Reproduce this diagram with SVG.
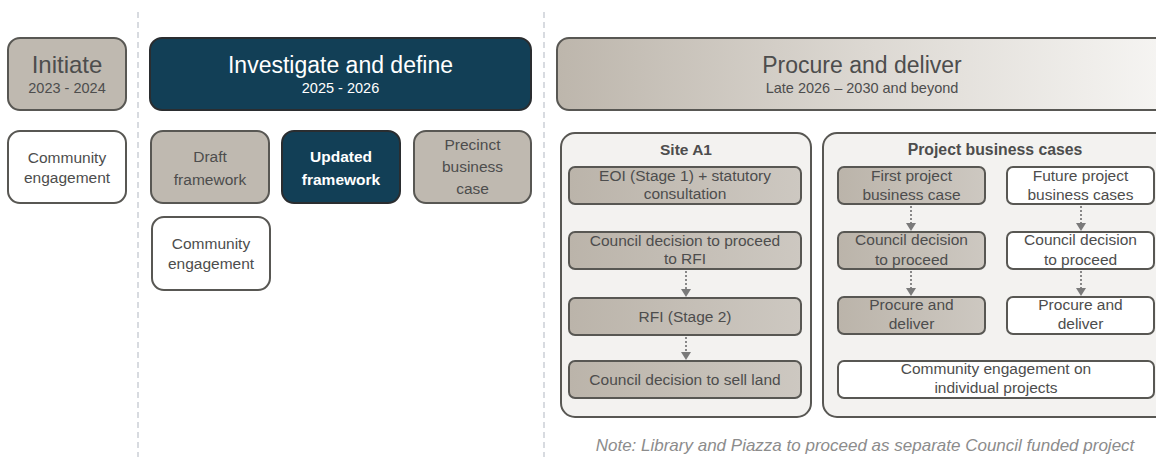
<svg xmlns="http://www.w3.org/2000/svg" width="1156" height="457" viewBox="0 0 1156 457">
<defs>
<linearGradient id="hdr" x1="0" y1="0" x2="1" y2="0">
<stop offset="0" stop-color="#bdb6ac"/>
<stop offset="0.5" stop-color="#dcd8d2"/>
<stop offset="1" stop-color="#f7f6f4"/>
</linearGradient>
<linearGradient id="tan" x1="0" y1="0" x2="1" y2="0">
<stop offset="0" stop-color="#bbb4aa"/>
<stop offset="1" stop-color="#cdc8c1"/>
</linearGradient>
</defs>
<style>
.box{stroke:#585753;stroke-width:2}
.tan{fill:#bfb9b0}
.tang{fill:url(#tan)}
.wht{fill:#ffffff}
.teal{fill:#123f56;stroke:#2a2d30}
.cont{fill:#f3f2f0;stroke:#585753;stroke-width:2}
.div{stroke:#d8dbe0;stroke-width:2;stroke-dasharray:6 4;fill:none}
text{font-family:"Liberation Sans",Arial,sans-serif;text-anchor:middle;fill:#4d4d4d}
.t{font-size:15.5px}
.big{font-size:23px}
.ini{font-size:24px}
.sub{font-size:14.5px}
.w{fill:#ffffff}
.b{font-weight:bold}
.hb{font-size:15.8px}
.note{font-size:17px;font-style:italic;fill:#8c8c8c}
.con{stroke:#888888;stroke-width:2;stroke-dasharray:2 2;fill:none}
.ah{fill:#7a7a7a}
</style>

<g id="dividers">
<line class="div" x1="138" y1="12" x2="138" y2="457"/>
<line class="div" x1="544" y1="12" x2="544" y2="457"/>
</g>

<g id="initiate">
<rect class="box tan" x="8" y="38" width="118" height="72" rx="12"/>
<text class="ini" x="67" y="73">Initiate</text>
<text class="sub" x="67" y="93">2023 - 2024</text>
</g>
<g id="ce1">
<rect class="box wht" x="8" y="131" width="118" height="72" rx="12"/>
<text class="t" x="67" y="163">Community</text>
<text class="t" x="67" y="183">engagement</text>
</g>

<g id="investigate">
<rect class="box teal" x="150" y="38" width="381" height="72" rx="12"/>
<text class="big w" x="340.5" y="73">Investigate and define</text>
<text class="sub w" x="340.5" y="93">2025 - 2026</text>
</g>
<g id="draft">
<rect class="box tan" x="151" y="131" width="118" height="72" rx="12"/>
<text class="t" x="210" y="162">Draft</text>
<text class="t" x="210" y="185">framework</text>
</g>
<g id="updated">
<rect class="box teal" x="282" y="131" width="118" height="72" rx="12"/>
<text class="t w b" x="341" y="162">Updated</text>
<text class="t w b" x="341" y="185">framework</text>
</g>
<g id="precinct">
<rect class="box tan" x="414" y="131" width="117" height="72" rx="12"/>
<text class="t" x="472.5" y="150">Precinct</text>
<text class="t" x="472.5" y="172">business</text>
<text class="t" x="472.5" y="194">case</text>
</g>
<g id="ce2">
<rect class="box wht" x="152" y="217" width="118" height="73" rx="12"/>
<text class="t" x="211" y="249">Community</text>
<text class="t" x="211" y="269">engagement</text>
</g>

<g id="procure">
<rect class="box" fill="url(#hdr)" x="557" y="38" width="620" height="72" rx="12"/>
<text class="big" x="862" y="73">Procure and deliver</text>
<text class="sub" x="862" y="93">Late 2026 – 2030 and beyond</text>
</g>

<g id="siteA1">
<rect class="cont" x="561" y="133" width="250" height="284" rx="14"/>
<text class="t b" x="686" y="155">Site A1</text>
</g>
<g id="eoi">
<rect class="box tang" x="569" y="167" width="232" height="37" rx="6"/>
<text class="t" x="685" y="181">EOI (Stage 1) + statutory</text>
<text class="t" x="685" y="199">consultation</text>
</g>
<g id="cdrfi">
<rect class="box tang" x="569" y="232" width="232" height="37" rx="6"/>
<text class="t" x="685" y="246">Council decision to proceed</text>
<text class="t" x="685" y="264">to RFI</text>
</g>
<g id="rfi">
<rect class="box tang" x="569" y="298" width="232" height="37" rx="6"/>
<text class="t" x="685" y="322">RFI (Stage 2)</text>
</g>
<g id="cdsell">
<rect class="box tang" x="569" y="361" width="232" height="37" rx="6"/>
<text class="t" x="685" y="385">Council decision to sell land</text>
</g>

<g id="pbc">
<rect class="cont" x="823" y="133" width="360" height="284" rx="14"/>
<text class="hb b" x="995" y="155">Project business cases</text>
</g>
<g id="first">
<rect class="box tang" x="838" y="167" width="147" height="37" rx="6"/>
<text class="t" x="911.5" y="181">First project</text>
<text class="t" x="911.5" y="200">business case</text>
</g>
<g id="future">
<rect class="box wht" x="1007" y="167" width="147" height="37" rx="6"/>
<text class="t" x="1080.5" y="181">Future project</text>
<text class="t" x="1080.5" y="200">business cases</text>
</g>
<g id="cd1">
<rect class="box tang" x="838" y="232" width="147" height="37" rx="6"/>
<text class="t" x="911.5" y="245">Council decision</text>
<text class="t" x="911.5" y="265">to proceed</text>
</g>
<g id="cd2">
<rect class="box wht" x="1007" y="232" width="147" height="37" rx="6"/>
<text class="t" x="1080.5" y="245">Council decision</text>
<text class="t" x="1080.5" y="265">to proceed</text>
</g>
<g id="pd1">
<rect class="box tang" x="838" y="297" width="147" height="37" rx="6"/>
<text class="t" x="911.5" y="310">Procure and</text>
<text class="t" x="911.5" y="329">deliver</text>
</g>
<g id="pd2">
<rect class="box wht" x="1007" y="297" width="147" height="37" rx="6"/>
<text class="t" x="1080.5" y="310">Procure and</text>
<text class="t" x="1080.5" y="329">deliver</text>
</g>
<g id="ceproj">
<rect class="box wht" x="838" y="361" width="316" height="37" rx="6"/>
<text class="t" x="996" y="374">Community engagement on</text>
<text class="t" x="996" y="393">individual projects</text>
</g>

<g id="connectors">
<line class="con" x1="686" y1="271" x2="686" y2="290"/>
<path class="ah" d="M681,289 L691,289 L686,297 Z"/>
<line class="con" x1="686" y1="337" x2="686" y2="353"/>
<path class="ah" d="M681,352 L691,352 L686,360 Z"/>
<line class="con" x1="911" y1="206" x2="911" y2="224"/>
<path class="ah" d="M906,223 L916,223 L911,231 Z"/>
<line class="con" x1="911" y1="271" x2="911" y2="289"/>
<path class="ah" d="M906,288 L916,288 L911,296 Z"/>
<line class="con" x1="1081" y1="206" x2="1081" y2="224"/>
<path class="ah" d="M1076,223 L1086,223 L1081,231 Z"/>
<line class="con" x1="1081" y1="271" x2="1081" y2="289"/>
<path class="ah" d="M1076,288 L1086,288 L1081,296 Z"/>
</g>

<text class="note" x="865" y="451">Note: Library and Piazza to proceed as separate Council funded project</text>
</svg>
